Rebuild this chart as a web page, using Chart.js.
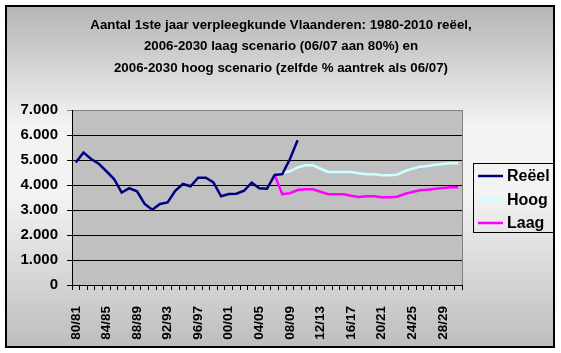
<!DOCTYPE html>
<html>
<head>
<meta charset="utf-8">
<script src="https://cdn.jsdelivr.net/npm/chart.js@4/dist/chart.umd.min.js"></script>
<style>
html, body { margin: 0; padding: 0; background: #fff; }
canvas { display: block; }
</style>
</head>
<body>
<canvas id="grafiek" width="561" height="353"></canvas>
<script>
// schooljaren 1980/81 - 2030/31
var jaren = ["80/81","81/82","82/83","83/84","84/85","85/86","86/87","87/88","88/89","89/90",
  "90/91","91/92","92/93","93/94","94/95","95/96","96/97","97/98","98/99","99/00",
  "00/01","01/02","02/03","03/04","04/05","05/06","06/07","07/08","08/09","09/10",
  "10/11","11/12","12/13","13/14","14/15","15/16","16/17","17/18","18/19","19/20",
  "20/21","21/22","22/23","23/24","24/25","25/26","26/27","27/28","28/29","29/30","30/31"];

var reeel = [4900,5300,5040,4850,4550,4240,3700,3870,3750,3240,
  3010,3240,3300,3770,4040,3950,4290,4290,4100,3550,
  3640,3650,3770,4090,3870,3850,4400,4440,5040,5790];

var hoog = [null,null,null,null,null,null,null,null,null,null,
  null,null,null,null,null,null,null,null,null,null,
  null,null,null,null,null,null,4400,4480,4550,4700,
  4790,4790,4650,4520,4520,4520,4520,4470,4430,4430,
  4390,4390,4410,4550,4650,4730,4760,4810,4840,4870,4870];

var laag = [null,null,null,null,null,null,null,null,null,null,
  null,null,null,null,null,null,null,null,null,null,
  null,null,null,null,null,null,4400,3630,3670,3800,
  3830,3830,3730,3630,3630,3630,3570,3520,3550,3550,
  3510,3510,3530,3640,3720,3790,3810,3850,3880,3910,3910];

var yMin = 0, yMax = 7000, yStap = 1000;
var titel = ["Aantal 1ste jaar verpleegkunde Vlaanderen: 1980-2010 reëel,",
  "2006-2030 laag scenario (06/07 aan 80%) en",
  "2006-2030 hoog scenario (zelfde % aantrek als 06/07)"];

var lettertype = "'Liberation Sans', Arial, sans-serif";

function duizendtal(v) {
  return String(v).replace(/\B(?=(\d{3})+(?!\d))/g, ".");
}

// achtergrond, kader en grijze plotzone
var achtergrond = {
  id: "achtergrond",
  beforeDraw: function(chart) {
    var ctx = chart.ctx, ca = chart.chartArea;
    ctx.save();
    ctx.fillStyle = "#ffffff";
    ctx.fillRect(0, 0, chart.width, chart.height);
    var g = ctx.createLinearGradient(0, 5, 0, 348);
    g.addColorStop(0, "#b4b4b4");
    g.addColorStop(0.35, "#f3f3f3");
    g.addColorStop(0.55, "#f3f3f3");
    g.addColorStop(1, "#bdbdbd");
    ctx.fillStyle = g;
    ctx.fillRect(5, 5, 550, 343);
    ctx.strokeStyle = "#000";
    ctx.lineWidth = 2;
    ctx.strokeRect(6, 6, 548, 341);
    ctx.fillStyle = "#c0c0c0";
    ctx.fillRect(ca.left, ca.top, ca.right - ca.left, ca.bottom - ca.top);

    // titel, gecentreerd over de hele figuur
    ctx.fillStyle = "#000";
    ctx.font = "bold 13.3px " + lettertype;
    ctx.textAlign = "center";
    ctx.textBaseline = "middle";
    titel.forEach(function(r, i) { ctx.fillText(r, 281, 25 + i * 21.5); });
    ctx.restore();
  },
  beforeDatasetsDraw: function(chart) {
    var ctx = chart.ctx, ca = chart.chartArea;
    ctx.save();
    ctx.strokeStyle = "#808080";
    ctx.lineWidth = 1;
    ctx.beginPath();
    ctx.moveTo(Math.round(ca.right) + 0.5, ca.top);
    ctx.lineTo(Math.round(ca.right) + 0.5, ca.bottom);
    ctx.stroke();
    ctx.restore();
  }
};

// legenda met kader rechts
var legenda = {
  id: "legenda",
  afterDraw: function(chart) {
    var ctx = chart.ctx;
    ctx.save();
    ctx.strokeStyle = "#000";
    ctx.lineWidth = 1;
    ctx.strokeRect(473.5, 163.5, 80, 69);
    ctx.font = "bold 16px " + lettertype;
    ctx.textBaseline = "middle";
    ctx.textAlign = "left";
    chart.data.datasets.forEach(function(ds, i) {
      var y = 176 + i * 23.5;
      ctx.strokeStyle = ds.borderColor;
      ctx.lineWidth = 2.5;
      ctx.beginPath();
      ctx.moveTo(478, y);
      ctx.lineTo(503, y);
      ctx.stroke();
      ctx.fillStyle = "#000";
      ctx.fillText(ds.label, 507, y + 1);
    });
    ctx.restore();
  }
};

var grafiek = new Chart(document.getElementById("grafiek").getContext("2d"), {
  type: "line",
  data: {
    labels: jaren,
    datasets: [
      { label: "Reëel", data: reeel, borderColor: "#000080" },
      { label: "Hoog", data: hoog, borderColor: "#ccffff" },
      { label: "Laag", data: laag, borderColor: "#ff00ff" }
    ]
  },
  options: {
    responsive: false,
    animation: false,
    devicePixelRatio: 1,
    layout: { padding: { left: 5, right: 99, top: 110, bottom: 0 } },
    elements: {
      point: { radius: 0, hoverRadius: 0 },
      line: { borderWidth: 2.5, tension: 0, fill: false }
    },
    plugins: {
      legend: { display: false },
      tooltip: { enabled: false },
      title: { display: false }
    },
    scales: {
      x: {
        offset: true,
        grid: { display: true, drawOnChartArea: false, offset: true, color: "#000", tickLength: 5 },
        border: { display: true, color: "#000", width: 1 },
        ticks: {
          autoSkip: false,
          maxRotation: 90,
          minRotation: 90,
          padding: 16,
          color: "#000",
          font: { family: lettertype, size: 13.5, weight: "bold" },
          callback: function(v, i) { return i % 4 === 0 ? this.getLabelForValue(v) : ""; }
        },
        afterFit: function(s) { s.height = 68; }
      },
      y: {
        min: yMin,
        max: yMax,
        grid: {
          color: function(c) { return c.tick && c.tick.value === yMax ? "#808080" : "#000"; },
          tickLength: 5
        },
        border: { display: true, color: "#000", width: 1 },
        ticks: {
          stepSize: yStap,
          padding: 9,
          color: "#000",
          font: { family: lettertype, size: 15, weight: "bold" },
          callback: function(v) { return duizendtal(v); }
        },
        afterFit: function(s) { s.width = 67; }
      }
    }
  },
  plugins: [achtergrond, legenda]
});
</script>
</body>
</html>
